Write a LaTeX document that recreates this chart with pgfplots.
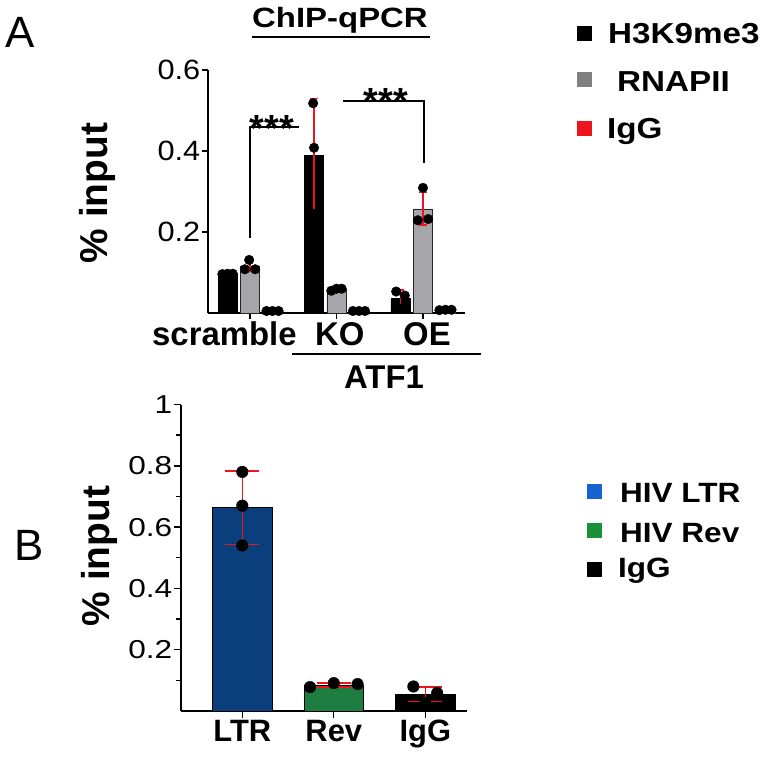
\documentclass[border=0pt]{standalone}
\usepackage{pgfplots}
\pgfplotsset{compat=1.18}
\usepackage{fontspec}
\setmainfont{Liberation Sans}
\definecolor{barGray}{RGB}{166,166,170}
\definecolor{legGray}{RGB}{128,128,128}
\definecolor{legRed}{RGB}{237,20,28}
\definecolor{ltrBlue}{RGB}{10,62,125}
\definecolor{revGreen}{RGB}{30,125,65}
\definecolor{legBlue}{RGB}{21,98,208}
\definecolor{legGreen}{RGB}{26,144,56}
\begin{document}
\begin{tikzpicture}
\path[use as bounding box] (0,0) rectangle (762bp,-757bp);
% ---------------- Panel A ----------------
\begin{axis}[
  at={(208bp,-313bp)}, anchor=south west,
  scale only axis, width=257bp, height=243bp,
  xmin=-0.486, xmax=2.486, ymin=0, ymax=0.6,
  axis lines=left, axis line style={-, line width=1.6bp},
  xtick={0,1,2}, xticklabels={},
  ytick={0.2,0.4,0.6},
  yticklabels={\scalebox{1.1}[1]{0.2},\scalebox{1.1}[1]{0.4},\scalebox{1.1}[1]{0.6}},
  yticklabel style={font=\fontsize{28}{28}\selectfont, inner sep=1.5bp},
  tick align=outside, major tick length=6bp,
  tick style={line width=1.6bp, black},
  clip=false,
]
\addplot[ybar, bar width=0.22, bar shift=-0.26, fill=black, draw=black, line width=0.8bp]
  coordinates {(0,0.097) (1,0.390) (2,0.035)};
\addplot[ybar, bar width=0.22, bar shift=0, fill=barGray, draw=black!85, line width=0.8bp]
  coordinates {(0,0.116) (1,0.058) (2,0.257)};
\addplot[ybar, bar width=0.22, bar shift=0.26, fill=legRed, draw=legRed]
  coordinates {(0,0.004) (1,0.004) (2,0.006)};
% error bars
\addplot[draw=none, mark=none, forget plot,
  error bars/.cd, y dir=both, y explicit,
  error bar style={draw=legRed, line width=1.4bp},
  error mark options={rotate=90, draw=legRed, line width=1.4bp, mark size=4bp}]
  coordinates {
  (-0.26,0.097) +- (0,0.002)
  (0,0.116) +- (0,0.013)
  (0.26,0.004) +- (0,0.001)
  (0.74,0.390) +- (0,0.140)
  (1,0.058) +- (0,0.003)
  (1.26,0.004) +- (0,0.001)
  (1.74,0.035) +- (0,0.022)
  (2,0.257) +- (0,0.040)
  (2.26,0.006) +- (0,0.001)
  };
% data points
\addplot[only marks, mark=*, mark size=4.8bp, mark options={fill=black, draw=black}]
  coordinates {
  (-0.32,0.096) (-0.26,0.097) (-0.20,0.097)
  (-0.06,0.108) (-0.01,0.131) (0.06,0.108)
  (0.19,0.005) (0.26,0.005) (0.33,0.005)
  (0.73,0.518) (0.74,0.408) (0.74,0.245)
  (0.94,0.055) (1.0,0.060) (1.06,0.060)
  (1.19,0.005) (1.26,0.005) (1.33,0.005)
  (1.69,0.053) (1.79,0.043) (1.74,0.010)
  (1.94,0.229) (2.0,0.309) (2.06,0.232)
  (2.19,0.007) (2.26,0.008) (2.33,0.008)
  };
% significance brackets
\draw[line width=1.6bp] (axis cs:0,0.185) -- (axis cs:0,0.459) -- (axis cs:0.566,0.459);
\draw[line width=1.6bp] (axis cs:1.075,0.524) -- (axis cs:2.01,0.524) -- (axis cs:2.01,0.37);
\end{axis}
\node[anchor=base, inner sep=0] at (272bp,-141bp) {\bfseries\fontsize{38}{38}\selectfont ***};
\node[anchor=base, inner sep=0] at (386bp,-114bp) {\bfseries\fontsize{38}{38}\selectfont ***};
% labels A
\node[anchor=base west, inner sep=0] at (5bp,-47bp) {\fontsize{44}{44}\selectfont A};
\node[anchor=base west, inner sep=0] at (252bp,-27bp) {\scalebox{1.18}[1]{\bfseries\fontsize{28}{28}\selectfont ChIP-qPCR}};
\draw[line width=2.4bp] (252bp,-37bp) -- (430bp,-37bp);
\node[rotate=90, inner sep=0] at (97bp,-193bp) {\bfseries\fontsize{39}{39}\selectfont \% input};
\node[anchor=base west, inner sep=0] at (152bp,-345bp) {\bfseries\fontsize{33}{33}\selectfont scramble};
\node[anchor=base west, inner sep=0] at (315bp,-345bp) {\bfseries\fontsize{33}{33}\selectfont KO};
\node[anchor=base west, inner sep=0] at (403bp,-345bp) {\bfseries\fontsize{33}{33}\selectfont OE};
\draw[line width=2bp] (292bp,-354bp) -- (481bp,-354bp);
\node[anchor=base, inner sep=0] at (384bp,-388bp) {\bfseries\fontsize{33}{33}\selectfont ATF1};
% legend A
\fill[black] (577bp,-26bp) rectangle (592bp,-41bp);
\fill[legGray] (577bp,-72bp) rectangle (592bp,-87bp);
\fill[legRed] (577bp,-121bp) rectangle (592bp,-136bp);
\node[anchor=base west, inner sep=0] at (608bp,-43bp) {\scalebox{1.15}[1]{\bfseries\fontsize{29}{29}\selectfont H3K9me3}};
\node[anchor=base west, inner sep=0] at (617bp,-91bp) {\scalebox{1.15}[1]{\bfseries\fontsize{29}{29}\selectfont RNAPII}};
\node[anchor=base west, inner sep=0] at (607bp,-138bp) {\scalebox{1.15}[1]{\bfseries\fontsize{29}{29}\selectfont IgG}};
% ---------------- Panel B ----------------
\begin{axis}[
  at={(181bp,-711bp)}, anchor=south west,
  scale only axis, width=286bp, height=306.5bp,
  xmin=-0.67, xmax=2.456, ymin=0, ymax=1,
  axis lines=left, axis line style={-, line width=1.4bp},
  xtick={0,1,2}, xticklabels={LTR,Rev,IgG},
  xticklabel style={font=\bfseries\fontsize{31}{31}\selectfont, inner sep=2bp},
  ytick={0.2,0.4,0.6,0.8,1},
  yticklabels={\scalebox{1.22}[1]{0.2},\scalebox{1.22}[1]{0.4},\scalebox{1.22}[1]{0.6},\scalebox{1.22}[1]{0.8},\scalebox{1.22}[1]{1}},
  minor ytick={0.1,0.3,0.5,0.7,0.9},
  yticklabel style={font=\fontsize{26}{26}\selectfont, inner sep=1.5bp},
  tick align=outside, major tick length=7bp, minor tick length=5bp,
  tick style={line width=1.4bp, black},
  clip=false,
]
\addplot[ybar, bar width=0.65, bar shift=0, fill=ltrBlue, draw=black, line width=0.8bp]
  coordinates {(0,0.663)};
\addplot[ybar, bar width=0.65, bar shift=0, fill=revGreen, draw=black, line width=0.8bp]
  coordinates {(1,0.084)};
\addplot[ybar, bar width=0.65, bar shift=0, fill=black, draw=black, line width=0.8bp]
  coordinates {(2,0.054)};
\addplot[draw=none, mark=none, forget plot,
  error bars/.cd, y dir=both, y explicit,
  error bar style={draw=legRed, line width=1.4bp},
  error mark options={rotate=90, draw=legRed, line width=1.4bp, mark size=17bp}]
  coordinates {
  (0,0.663) +- (0,0.120)
  (1,0.085) +- (0,0.007)
  (2,0.055) +- (0,0.023)
  };
\addplot[only marks, mark=*, mark size=5.8bp, mark options={fill=black, draw=black}]
  coordinates {
  (0,0.780) (0,0.670) (0,0.540)
  (0.74,0.078) (1.0,0.091) (1.26,0.088)
  (1.87,0.080) (2.13,0.059) (2.0,0.025)
  };
\end{axis}
\node[anchor=base west, inner sep=0] at (14bp,-560bp) {\fontsize{44}{44}\selectfont B};
\node[rotate=90, inner sep=0] at (99bp,-556bp) {\bfseries\fontsize{39}{39}\selectfont \% input};
% legend B
\fill[legBlue] (587bp,-484bp) rectangle (602bp,-499bp);
\fill[legGreen] (587bp,-523bp) rectangle (602bp,-538bp);
\fill[black] (587bp,-562bp) rectangle (602bp,-577bp);
\node[anchor=base west, inner sep=0] at (620bp,-502bp) {\scalebox{1.13}[1]{\bfseries\fontsize{28}{28}\selectfont HIV LTR}};
\node[anchor=base west, inner sep=0] at (620bp,-542bp) {\scalebox{1.13}[1]{\bfseries\fontsize{28}{28}\selectfont HIV Rev}};
\node[anchor=base west, inner sep=0] at (618bp,-577bp) {\scalebox{1.13}[1]{\bfseries\fontsize{28}{28}\selectfont IgG}};
\end{tikzpicture}
\end{document}
